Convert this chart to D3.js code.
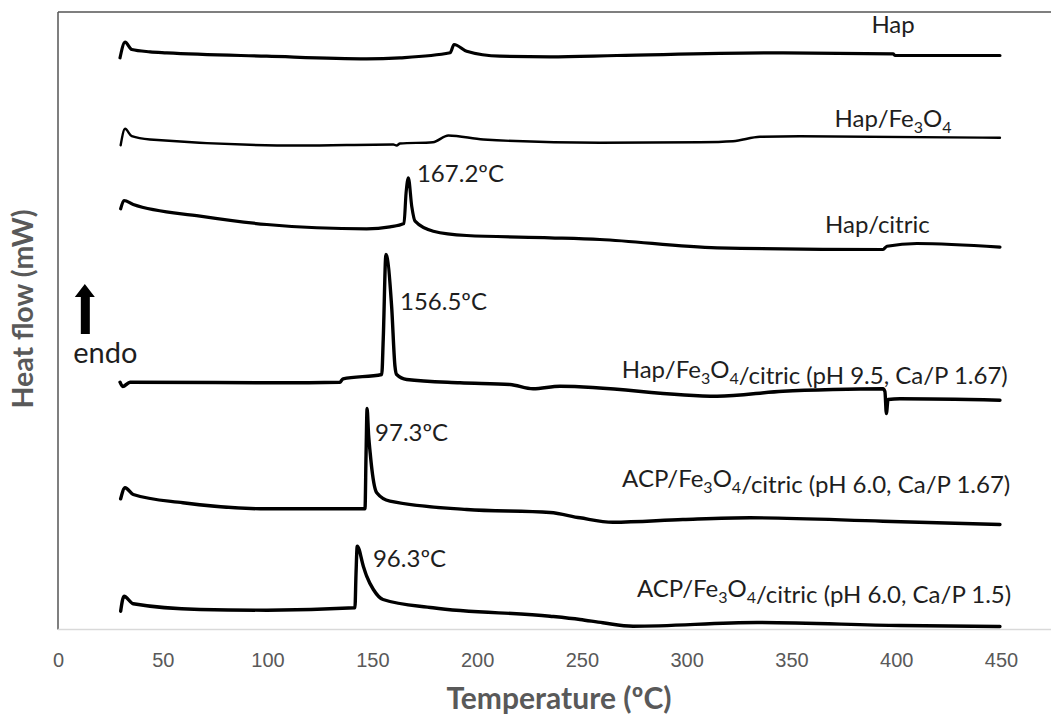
<!DOCTYPE html>
<html>
<head>
<meta charset="utf-8">
<script src="https://cdn.jsdelivr.net/npm/d3@7"></script>
<style>
  body { margin: 0; background: #fff; }
  svg { display: block; font-family: Lato, "Open Sans", sans-serif; }
</style>
</head>
<body>
<svg id="chart" width="1051" height="716"></svg>
<script>
// Data: DSC curves, temperature (°C) and heat flow (arbitrary offset units)
const xTicks = [0, 50, 100, 150, 200, 250, 300, 350, 400, 450];

const hapT = [29.6, 32.0, 35.2, 43.9, 51.9, 99.6, 147.3, 163.2, 187.1, 189.0, 195.0, 210.9, 234.8, 266.7, 346.0, 398.5, 399.5, 449.5];
const hapV = [57.17, 58.73, 58.0, 57.77, 57.67, 57.33, 57.07, 57.17, 57.67, 58.5, 57.83, 57.33, 57.27, 57.4, 57.67, 57.57, 57.4, 57.4];

const hapFeT = [29.9, 32.0, 35.2, 43.9, 115.5, 160.0, 161.6, 163.2, 178.9, 186.3, 203.0, 258.6, 306.3, 322.1, 335.0, 354.0, 449.5];
const hapFeV = [48.43, 50.07, 49.33, 49.0, 48.4, 48.5, 48.4, 48.6, 48.73, 49.4, 49.0, 48.67, 48.73, 48.83, 49.27, 49.33, 49.17];

const hapCitT = [29.9, 31.5, 35.9, 67.8, 99.6, 147.3, 158.4, 165.1, 166.1, 167.2, 168.8, 170.4, 179.1, 195.0, 234.8, 258.6, 314.5, 393.7, 395.6, 409.9, 449.5];
const hapCitV = [42.07, 42.9, 42.5, 41.33, 40.5, 40.07, 40.27, 40.6, 43.67, 45.17, 42.33, 40.83, 39.83, 39.4, 39.17, 39.0, 38.17, 38.0, 38.33, 38.6, 38.23];

const hapFeCitT = [29.6, 30.9, 34.4, 104.5, 134.6, 136.0, 154.5, 155.2, 156.5, 159.2, 160.8, 161.6, 166.4, 191.8, 215.7, 226.7, 239.6, 314.5, 346.0, 369.8, 393.7, 394.6, 395.3, 396.1, 401.8, 449.5];
const hapFeCitV = [24.73, 24.3, 24.73, 24.67, 24.73, 25.07, 25.5, 29.0, 37.5, 32.33, 26.33, 25.5, 25.0, 24.67, 24.5, 24.07, 24.33, 23.33, 23.83, 24.0, 24.07, 23.8, 21.6, 23.0, 23.07, 22.93];

const acp167T = [29.9, 32.0, 35.9, 59.6, 99.7, 146.5, 147.0, 147.5, 148.2, 149.0, 149.8, 152.1, 158.4, 195.0, 234.8, 249.1, 264.8, 298.2, 330.2, 393.7, 449.5];
const acp167V = [13.07, 14.17, 13.5, 12.67, 12.07, 12.07, 17.5, 22.1, 19.5, 17.6, 16.0, 13.67, 12.83, 12.0, 11.7, 11.17, 10.73, 11.0, 11.17, 10.83, 10.5];

const acp15T = [29.9, 31.5, 35.9, 67.8, 99.7, 141.7, 142.2, 142.8, 145.7, 147.3, 150.5, 155.1, 178.9, 234.8, 249.1, 260.0, 274.4, 333.6, 401.8, 449.5];
const acp15V = [1.83, 3.33, 2.57, 2.0, 1.93, 2.17, 5.5, 8.33, 6.33, 5.33, 4.0, 3.0, 2.17, 1.33, 1.0, 0.67, 0.33, 0.7, 0.4, 0.3];

const seriesNames = [
  "Hap",
  "Hap/Fe3O4",
  "Hap/citric",
  "Hap/Fe3O4/citric (pH 9.5, Ca/P 1.67)",
  "ACP/Fe3O4/citric (pH 6.0, Ca/P 1.67)",
  "ACP/Fe3O4/citric (pH 6.0, Ca/P 1.5)",
];
const seriesT = [hapT, hapFeT, hapCitT, hapFeCitT, acp167T, acp15T];
const seriesV = [hapV, hapFeV, hapCitV, hapFeCitV, acp167V, acp15V];

const peakLabels = ["167.2ºC", "156.5ºC", "97.3ºC", "96.3ºC"];

// layout
const svg = d3.select("#chart");
const W = 1051, H = 716;
const plot = { left: 58, top: 12, bottom: 629.5, right: 1001 };

const x = d3.scaleLinear().domain([0, 450]).range([plot.left, plot.right]);
const y = d3.scaleLinear().domain([0, 61.75]).range([plot.bottom, plot.top]);

// plot frame (right edge runs past the picture)
svg.append("line")
  .attr("x1", plot.left).attr("x2", W + 5)
  .attr("y1", plot.top).attr("y2", plot.top)
  .attr("stroke", "#555").attr("stroke-width", 1.5);
svg.append("line")
  .attr("x1", plot.left).attr("x2", plot.left)
  .attr("y1", plot.top).attr("y2", plot.bottom)
  .attr("stroke", "#555").attr("stroke-width", 1.5);

// x axis, labels only
const xAxis = d3.axisBottom(x).tickValues(xTicks).tickSize(0).tickPadding(0);
const gx = svg.append("g")
  .attr("transform", "translate(0," + plot.bottom + ")")
  .call(xAxis);
gx.select(".domain").remove();
gx.selectAll("text")
  .attr("y", 37.5).attr("dy", null)
  .attr("fill", "#595959")
  .style("font-size", "20px");

svg.append("line")
  .attr("x1", plot.left).attr("x2", W + 5)
  .attr("y1", plot.bottom).attr("y2", plot.bottom)
  .attr("stroke", "#d9d9d9").attr("stroke-width", 1.5);

// axis titles
svg.append("text")
  .attr("x", 559).attr("y", 709)
  .attr("text-anchor", "middle")
  .attr("fill", "#595959")
  .style("font-size", "30px").style("font-weight", "bold")
  .text("Temperature (ºC)");

svg.append("text")
  .attr("transform", "translate(33,309) rotate(-90)")
  .attr("text-anchor", "middle")
  .attr("fill", "#595959")
  .style("font-size", "28.5px").style("font-weight", "bold")
  .text("Heat flow (mW)");

// curves
const line = d3.line()
  .x((d) => x(d[0]))
  .y((d) => y(d[1]))
  .curve(d3.curveMonotoneX);

const widths = [3.2, 2.4, 3.2, 3.4, 3.4, 3.4];
seriesNames.forEach((name, i) => {
  const pts = seriesT[i].map((t, j) => [t, seriesV[i][j]]);
  svg.append("path")
    .datum(pts)
    .attr("fill", "none")
    .attr("stroke", "#000")
    .attr("stroke-width", widths[i])
    .attr("stroke-linejoin", "round")
    .attr("stroke-linecap", "round")
    .attr("d", line);
});

// series labels: [temperature, value, anchor]
const namePos = [
  [398.5, 59.7, "middle"],
  [398.5, 50.3, "middle"],
  [391, 39.7, "middle"],
  [269, 25.2, "start"],
  [269.2, 14.3, "start"],
  [276.3, 3.3, "start"],
];

function addLabel(txt, t, v, anchor) {
  const el = svg.append("text")
    .attr("x", x(t)).attr("y", y(v))
    .attr("text-anchor", anchor)
    .attr("fill", "#1e1e1e")
    .style("font-size", "24px");
  // subscripts for Fe3O4
  const parts = txt.split(/(Fe3O4)/);
  parts.forEach((p) => {
    if (p === "Fe3O4") {
      el.append("tspan").text("Fe");
      el.append("tspan").attr("dy", 6).style("font-size", "16px").text("3");
      el.append("tspan").attr("dy", -6).text("O");
      el.append("tspan").attr("dy", 6).style("font-size", "16px").text("4");
      el.append("tspan").attr("dy", -6).text("");
    } else if (p.length) {
      el.append("tspan").text(p);
    }
  });
}

seriesNames.forEach((name, i) => addLabel(name, namePos[i][0], namePos[i][1], namePos[i][2]));

// peak temperature labels
const peakPos = [[171.3, 44.8], [163.2, 32.0], [151.3, 18.9], [150.3, 6.3]];
peakLabels.forEach((txt, i) => addLabel(txt, peakPos[i][0], peakPos[i][1], "start"));

// endo arrow
const ax = x(12.8), ay = y(34.55);
svg.append("path")
  .attr("d", `M${ax},${ay} L${ax + 10},${ay + 13} L${ax + 5},${ay + 13} L${ax + 5},${ay + 50} L${ax - 4},${ay + 50} L${ax - 4},${ay + 13} L${ax - 10},${ay + 13} Z`)
  .attr("fill", "#000");
svg.append("text")
  .attr("x", x(7.3)).attr("y", y(26.7))
  .attr("fill", "#1e1e1e")
  .style("font-size", "29px")
  .text("endo");
</script>
</body>
</html>
